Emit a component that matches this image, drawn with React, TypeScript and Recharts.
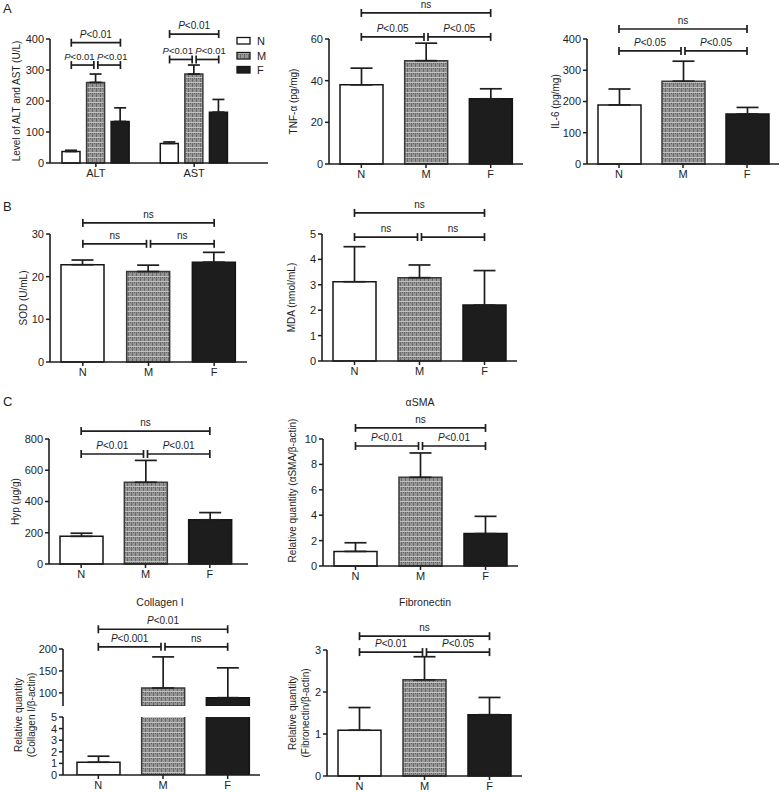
import React from 'react';
import { BarChart, Bar, XAxis, YAxis, ErrorBar, Cell, ReferenceLine, Legend, Rectangle } from 'recharts';

// ---------- data ----------
const groups = ['N', 'M', 'F'];

const enzymeNames = ['ALT', 'AST'];
const altMean = [37, 260, 134];
const altSD = [4, 27, 44];
const astMean = [63, 287, 164];
const astSD = [5, 29, 41];
const enzymeTicks = [0, 100, 200, 300, 400];

const tnfMean = [38, 49.6, 31.3];
const tnfSD = [8, 8.4, 4.8];
const tnfTicks = [0, 20, 40, 60];

const il6Mean = [189, 265, 160];
const il6SD = [51, 64, 21];
const il6Ticks = [0, 100, 200, 300, 400];

const sodMean = [22.8, 21.2, 23.4];
const sodSD = [1.1, 1.5, 2.3];
const sodTicks = [0, 10, 20, 30];

const mdaMean = [3.12, 3.28, 2.2];
const mdaSD = [1.38, 0.5, 1.36];
const mdaTicks = [0, 1, 2, 3, 4, 5];

const hypMean = [177, 523, 283];
const hypSD = [20, 140, 46];
const hypTicks = [0, 200, 400, 600, 800];

const smaMean = [1.15, 6.98, 2.55];
const smaSD = [0.68, 1.92, 1.36];
const smaTicks = [0, 2, 4, 6, 8, 10];

const colMean = [1.1, 111, 89];
const colSD = [0.52, 71, 68];
const colTicksUpper = [100, 150, 200];
const colTicksLower = [0, 1, 2, 3, 4, 5];

const fnMean = [1.09, 2.29, 1.46];
const fnSD = [0.54, 0.55, 0.41];
const fnTicks = [0, 1, 2, 3];

// significance brackets (level in data units)
const enzymeBrackets = [
  { from: 'ALT-N', to: 'ALT-F', level: 388, text: 'P<0.01' },
  { from: 'ALT-N', to: 'ALT-M', level: 316, text: 'P<0.01' },
  { from: 'ALT-M', to: 'ALT-F', level: 316, text: 'P<0.01' },
  { from: 'AST-N', to: 'AST-F', level: 416, text: 'P<0.01' },
  { from: 'AST-N', to: 'AST-M', level: 334, text: 'P<0.01' },
  { from: 'AST-M', to: 'AST-F', level: 334, text: 'P<0.01' },
];
const tnfBrackets = [
  { from: 'N', to: 'F', level: 72.5, text: 'ns' },
  { from: 'N', to: 'M', level: 61, text: 'P<0.05' },
  { from: 'M', to: 'F', level: 61, text: 'P<0.05' },
];
const il6Brackets = [
  { from: 'N', to: 'F', level: 432, text: 'ns' },
  { from: 'N', to: 'M', level: 362, text: 'P<0.05' },
  { from: 'M', to: 'F', level: 362, text: 'P<0.05' },
];
const sodBrackets = [
  { from: 'N', to: 'F', level: 32.6, text: 'ns' },
  { from: 'N', to: 'M', level: 27.7, text: 'ns' },
  { from: 'M', to: 'F', level: 27.7, text: 'ns' },
];
const mdaBrackets = [
  { from: 'N', to: 'F', level: 5.83, text: 'ns' },
  { from: 'N', to: 'M', level: 4.88, text: 'ns' },
  { from: 'M', to: 'F', level: 4.88, text: 'ns' },
];
const hypBrackets = [
  { from: 'N', to: 'F', level: 851, text: 'ns' },
  { from: 'N', to: 'M', level: 704, text: 'P<0.01' },
  { from: 'M', to: 'F', level: 704, text: 'P<0.01' },
];
const smaBrackets = [
  { from: 'N', to: 'F', level: 10.87, text: 'ns' },
  { from: 'N', to: 'M', level: 9.45, text: 'P<0.01' },
  { from: 'M', to: 'F', level: 9.45, text: 'P<0.01' },
];
const colBrackets = [
  { from: 'N', to: 'F', level: 245, text: 'P<0.01' },
  { from: 'N', to: 'M', level: 205, text: 'P<0.001' },
  { from: 'M', to: 'F', level: 205, text: 'ns' },
];
const fnBrackets = [
  { from: 'N', to: 'F', level: 3.33, text: 'ns' },
  { from: 'N', to: 'M', level: 2.95, text: 'P<0.01' },
  { from: 'M', to: 'F', level: 2.95, text: 'P<0.05' },
];

// ---------- tables ----------
type Row = { cat: string; group: string; value: number | null; err: [number, number] | null };
const makeRows = (means: number[], sds: number[]): Row[] =>
  groups.map((g, i) => ({ cat: g, group: g, value: means[i], err: [0, sds[i]] }));

const enzymeRows: Row[] = enzymeNames.flatMap((e, ei) => {
  const means = ei === 0 ? altMean : astMean;
  const sds = ei === 0 ? altSD : astSD;
  const rows: Row[] = groups.map((g, gi) => ({ cat: `${e}-${g}`, group: g, value: means[gi], err: [0, sds[gi]] }));
  return ei < enzymeNames.length - 1 ? [...rows, { cat: 'gap', group: 'N', value: null, err: null }] : rows;
});

// ---------- styles ----------
const FONT = '"Liberation Sans", Arial, Helvetica, sans-serif';
const INK = '#1e1e1e';
const FILL: Record<string, string> = { N: '#ffffff', M: 'url(#mTex)', F: '#1d1d1d' };
const STROKE: Record<string, string> = { N: '#151515', M: '#3a3a3a', F: '#151515' };
const YW = 50;
const XH = 30;

const PText = ({ text }: { text: string }) =>
  text.startsWith('P') ? (
    <>
      <tspan fontStyle="italic">P</tspan>
      <tspan>{text.slice(1)}</tspan>
    </>
  ) : (
    <>{text}</>
  );

const BracketShape = (p: any) => {
  const { x1, y1, x2, text, fromM, toM } = p;
  if (![x1, y1, x2].every((v) => Number.isFinite(v))) return <g />;
  const a = x1 + (fromM ? 2 : 0);
  const b = x2 - (toM ? 2 : 0);
  const approxW = text.length * 5.4;
  let tx = (a + b) / 2;
  let anchor: 'middle' | 'start' | 'end' = 'middle';
  let fs = 10;
  if (approxW > b - a + 4) {
    fs = 9.5;
    if (toM) { tx = x2 - 1.2; anchor = 'end'; }
    else if (fromM) { tx = x1 + 1.2; anchor = 'start'; }
  }
  return (
    <g>
      <line x1={a} x2={b} y1={y1} y2={y1} stroke={INK} strokeWidth={1.7} />
      <line x1={a} x2={a} y1={y1 - 4} y2={y1 + 4} stroke={INK} strokeWidth={1.7} />
      <line x1={b} x2={b} y1={y1 - 4} y2={y1 + 4} stroke={INK} strokeWidth={1.7} />
      <text x={tx} y={y1 - 5} textAnchor={anchor} fontSize={fs} fill={INK} fontFamily={FONT}>
        <PText text={text} />
      </text>
    </g>
  );
};

const EnzymeTick = (props: any) => {
  const { x, y, payload } = props;
  const cat: string = String(payload?.value ?? '');
  if (!cat.endsWith('-M')) return <g />;
  return (
    <g>
      <line x1={x} x2={x} y1={y - 6} y2={y - 2} stroke={INK} strokeWidth={1.5} />
      <text x={x} y={y} dy="0.71em" textAnchor="middle" fontSize={11} fill={INK} fontFamily={FONT}>
        {cat.split('-')[0]}
      </text>
    </g>
  );
};

const LegendContent = () => (
  <div style={{ fontSize: 11, color: INK, fontFamily: FONT }}>
    {groups.map((g) => (
      <div key={g} style={{ display: 'flex', alignItems: 'center', height: 14.5 }}>
        <svg width={16} height={10}>
          <rect x={1} y={1.5} width={13} height={6.5} fill={FILL[g]} stroke="#151515" strokeWidth={1.3} />
        </svg>
        <span style={{ marginLeft: 5 }}>{g}</span>
      </div>
    ))}
  </div>
);

type PanelProps = {
  rows: Row[];
  axisX: number;
  yTop: number;
  yBottom: number;
  xEnd: number;
  topRoom?: number;
  yMin?: number;
  yMax: number;
  ticks: number[];
  label?: string[];
  labelX?: number[];
  labelShift?: number;
  brackets?: { from: string; to: string; level: number; text: string }[];
  barSize?: number;
  capW?: number;
  padL?: number;
  padR?: number;
  hideX?: boolean;
  clip?: boolean;
  customTick?: boolean;
  legend?: boolean;
};

function Panel(props: PanelProps) {
  const {
    rows, axisX, yTop, yBottom, xEnd, topRoom = 40, yMin = 0, yMax, ticks, label = [], labelX = [],
    labelShift = 0, brackets = [], barSize = 43, capW = 11, padL = 0, padR = 0, hideX = false,
    clip = false, customTick = false, legend = false,
  } = props;
  const L = axisX - YW;
  const T = yTop - topRoom;
  const right = Math.max(1, Math.min(5, 780 - xEnd));
  const W = xEnd - L + right;
  const H = yBottom - T + (hideX ? 0 : XH);
  const midY = topRoom + (yBottom - yTop) / 2 + labelShift;
  const yLabel = () => (
    <g>
      {label.map((t, i) => {
        const lx = labelX[i] - L;
        return (
          <text key={i} x={lx} y={midY} transform={`rotate(-90, ${lx}, ${midY})`} textAnchor="middle"
            dominantBaseline="central" fontSize={10} fill={INK} fontFamily={FONT}>
            {t}
          </text>
        );
      })}
    </g>
  );
  const barShape = (p: any) => {
    const v = p?.payload?.value;
    if (v == null || v < yMin) return <g />;
    return <Rectangle {...p} />;
  };
  return (
    <div style={{ position: 'absolute', left: L, top: T }}>
      <BarChart width={W} height={H} data={rows} margin={{ top: topRoom, right, bottom: 0, left: 0 }}>
        <XAxis
          dataKey="cat"
          hide={hideX}
          height={XH}
          interval={0}
          padding={{ left: padL, right: padR }}
          axisLine={{ stroke: INK, strokeWidth: 1.6 }}
          tickLine={customTick ? false : { stroke: INK, strokeWidth: 1.5 }}
          tickSize={4}
          tick={customTick ? <EnzymeTick /> : { fill: INK, fontSize: 11 }}
        />
        <YAxis
          type="number"
          width={YW}
          domain={[yMin, yMax]}
          ticks={ticks}
          interval={0}
          allowDataOverflow={clip}
          axisLine={{ stroke: INK, strokeWidth: 1.6 }}
          tickLine={{ stroke: INK, strokeWidth: 1.5 }}
          tickSize={4}
          tick={{ fill: INK, fontSize: 11 }}
          label={label.length ? yLabel : undefined}
        />
        <Bar dataKey="value" barSize={barSize} isAnimationActive={false} shape={yMin > 0 ? barShape : undefined}>
          {rows.map((r, i) => (
            <Cell key={i} fill={FILL[r.group]} stroke={STROKE[r.group]} strokeWidth={1.5} />
          ))}
          <ErrorBar dataKey="err" width={capW} stroke={INK} strokeWidth={1.7} direction="y" isAnimationActive={false} />
        </Bar>
        {brackets.map((b, i) => (
          <ReferenceLine
            key={i}
            segment={[{ x: b.from, y: b.level }, { x: b.to, y: b.level }]}
            ifOverflow="visible"
            shape={(p: any) => (
              <BracketShape {...p} text={b.text} fromM={b.from.endsWith('M')} toM={b.to.endsWith('M')} />
            )}
          />
        ))}
        {legend && (
          <Legend
            layout="vertical"
            align="center"
            verticalAlign="middle"
            content={<LegendContent />}
            wrapperStyle={{ position: 'absolute', left: 236, top: 34, width: 40, height: 45 }}
          />
        )}
      </BarChart>
    </div>
  );
}

const Txt = ({ x, y, size, children, center = false }: any) => (
  <div
    style={{
      position: 'absolute', left: x, top: y, fontSize: size, lineHeight: `${size + 2}px`, color: INK,
      transform: center ? 'translateX(-50%)' : undefined, whiteSpace: 'nowrap',
    }}
  >
    {children}
  </div>
);

export default function App() {
  return (
    <div style={{ position: 'absolute', left: 0, top: 0, width: 780, height: 792, background: '#fff', overflow: 'hidden', fontFamily: FONT }}>
      <svg width={0} height={0} style={{ position: 'absolute' }}>
        <defs>
          <pattern id="mTex" width={4} height={5} patternUnits="userSpaceOnUse">
            <rect width={4} height={5} fill="#959595" />
            <rect x={0} y={0} width={1} height={5} fill="#6a6a6a" />
            <rect x={2} y={3} width={1} height={1} fill="#606060" />
            <rect x={0} y={2} width={4} height={1} fill="#c2c2c2" />
          </pattern>
        </defs>
      </svg>

      <Txt x={3} y={1} size={13}>A</Txt>
      <Txt x={3} y={199} size={13}>B</Txt>
      <Txt x={3} y={394} size={13}>C</Txt>
      <Txt x={420} y={396} size={10.5} center>αSMA</Txt>
      <Txt x={160} y={596} size={10.5} center>Collagen I</Txt>
      <Txt x={425} y={596} size={10.5} center>Fibronectin</Txt>

      {/* A */}
      <Panel rows={enzymeRows} axisX={50} yTop={39} yBottom={163} xEnd={268} topRoom={39} yMax={400}
        ticks={enzymeTicks} label={['Level  of ALT and AST (U/L)']} labelX={[16]}
        brackets={enzymeBrackets} barSize={18} capW={6} padL={9} padR={37} customTick legend />
      <Panel rows={makeRows(tnfMean, tnfSD)} axisX={329} yTop={39} yBottom={164} xEnd={523} topRoom={39}
        yMax={60} ticks={tnfTicks} label={['TNF-α (pg/mg)']} labelX={[293]} brackets={tnfBrackets} />
      <Panel rows={makeRows(il6Mean, il6SD)} axisX={587} yTop={39} yBottom={164} xEnd={779} topRoom={39}
        yMax={400} ticks={il6Ticks} label={['IL-6 (pg/mg)']} labelX={[555]} brackets={il6Brackets} />

      {/* B */}
      <Panel rows={makeRows(sodMean, sodSD)} axisX={50} yTop={234} yBottom={362} xEnd={247}
        yMax={30} ticks={sodTicks} label={['SOD (U/mL)']} labelX={[23]} brackets={sodBrackets} />
      <Panel rows={makeRows(mdaMean, mdaSD)} axisX={322} yTop={234} yBottom={361} xEnd={517}
        yMax={5} ticks={mdaTicks} label={['MDA (nmol/mL)']} labelX={[291]} brackets={mdaBrackets} />

      {/* C */}
      <Panel rows={makeRows(hypMean, hypSD)} axisX={49} yTop={439} yBottom={564} xEnd={248} padR={6}
        yMax={800} ticks={hypTicks} label={['Hyp (μg/g)']} labelX={[15]} brackets={hypBrackets} />
      <Panel rows={makeRows(smaMean, smaSD)} axisX={323} yTop={439} yBottom={566} xEnd={518}
        yMax={10} ticks={smaTicks} label={['Relative quantity (αSMA/β-actin)']} labelX={[292]} labelShift={-12}
        brackets={smaBrackets} />

      <Panel rows={makeRows(colMean, colSD)} axisX={63} yTop={649} yBottom={706} xEnd={260} padL={3}
        yMin={70} yMax={200} ticks={colTicksUpper} hideX clip brackets={colBrackets} />
      <Panel rows={makeRows(colMean, colSD)} axisX={63} yTop={717} yBottom={775} xEnd={260} padL={3}
        topRoom={72} yMax={5} ticks={colTicksLower} clip label={['Relative quantity', '(Collagen I/β-actin)']}
        labelX={[18, 31]} labelShift={-31} />

      <Panel rows={makeRows(fnMean, fnSD)} axisX={327} yTop={650} yBottom={776} xEnd={522}
        yMax={3} ticks={fnTicks} label={['Relative quantity', '(Fibronectin/β-actin)']} labelX={[292, 305]}
        brackets={fnBrackets} />
    </div>
  );
}
